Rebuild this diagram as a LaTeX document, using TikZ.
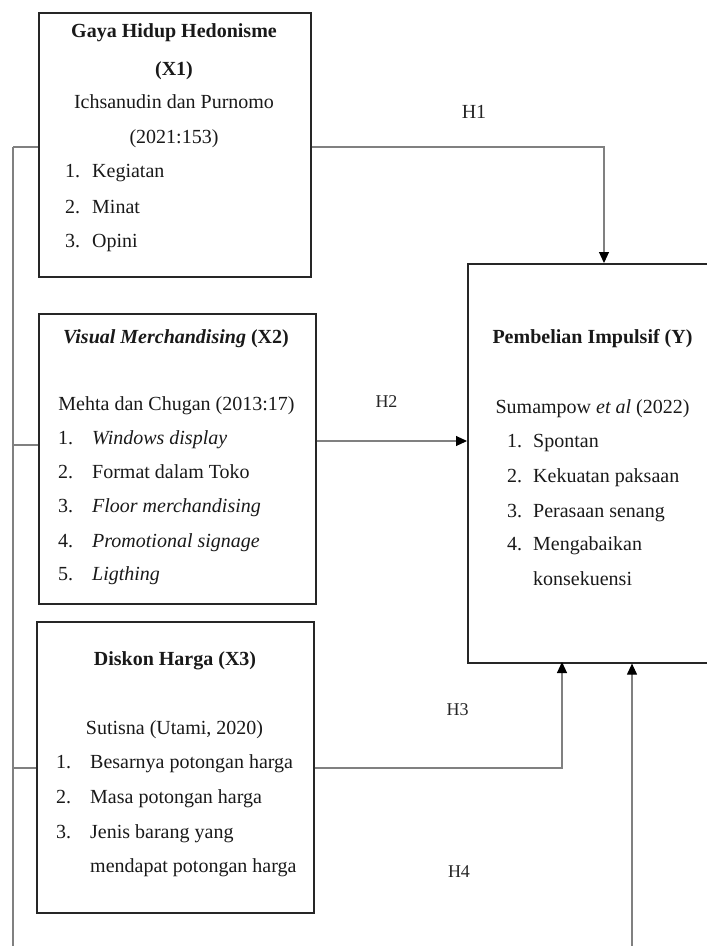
\documentclass[tikz,border=0pt]{standalone}
\usepackage{fontspec}
\setmainfont{Liberation Serif}
\usetikzlibrary{arrows.meta}
\tikzset{
  x=1pt, y=-1pt,
  box/.style={draw=black!85, line width=1.6pt, fill=none, inner sep=0pt, anchor=north west},
  conn/.style={draw=black!50, line width=1.1pt},
  arr/.style={-{Triangle[length=11pt,width=10pt,fill=black,color=black]}},
  txt/.style={font=\fontsize{20}{24}\selectfont, inner sep=0pt, anchor=base, text=black!90},
  item/.style={txt, anchor=base west},
  hlab/.style={font=\fontsize{18}{22}\selectfont, inner sep=0pt, anchor=base, text=black!85},
}
\begin{document}
\begin{tikzpicture}
\useasboundingbox (0,0) rectangle (707,946);
\clip (0,0) rectangle (707,946);
% boxes
\node[box, minimum width=272pt, minimum height=264pt] (x1) at (38,12) {};
\node[box, minimum width=277pt, minimum height=290pt] (x2) at (38,313) {};
\node[box, minimum width=277pt, minimum height=291pt] (x3) at (36,621) {};
\node[box, minimum width=260pt, minimum height=399pt] (y) at (467,263) {};
% X1 text
\node[txt] (x1t1) at (174,37.7) {\textbf{Gaya Hidup Hedonisme}};
\node[txt] (x1t2) at (174,75) {\textbf{(X1)}};
\node[txt] (x1s1) at (174,108) {Ichsanudin dan Purnomo};
\node[txt] (x1s2) at (174,143) {(2021:153)};
\node[item] (x1i1) at (65,177) {\makebox[27pt][l]{1.}Kegiatan};
\node[item] (x1i2) at (65,213) {\makebox[27pt][l]{2.}Minat};
\node[item] (x1i3) at (65,247) {\makebox[27pt][l]{3.}Opini};
% X2 text
\node[txt] (x2t) at (176,343) {\textbf{\textit{Visual Merchandising} (X2)}};
\node[txt] (x2s) at (176.5,410) {Mehta dan Chugan (2013:17)};
\node[item] (x2i1) at (58,444) {\makebox[34pt][l]{1.}\textit{Windows display}};
\node[item] (x2i2) at (58,478) {\makebox[34pt][l]{2.}Format dalam Toko};
\node[item] (x2i3) at (58,512) {\makebox[34pt][l]{3.}\textit{Floor merchandising}};
\node[item] (x2i4) at (58,547) {\makebox[34pt][l]{4.}\textit{Promotional signage}};
\node[item] (x2i5) at (58,580) {\makebox[34pt][l]{5.}\textit{Ligthing}};
% X3 text
\node[txt] (x3t) at (175,665) {\textbf{Diskon Harga (X3)}};
\node[txt] (x3s) at (174.5,734) {Sutisna (Utami, 2020)};
\node[item] (x3i1) at (56,768) {\makebox[34pt][l]{1.}Besarnya potongan harga};
\node[item] (x3i2) at (56,803) {\makebox[34pt][l]{2.}Masa potongan harga};
\node[item] (x3i3) at (56,838) {\makebox[34pt][l]{3.}Jenis barang yang};
\node[item] (x3i4) at (90,872) {mendapat potongan harga};
% Y text
\node[txt] (yt) at (592.5,343) {\textbf{Pembelian Impulsif (Y)}};
\node[txt] (ys) at (592.5,413) {Sumampow \textit{et al} (2022)};
\node[item] (yi1) at (507,447) {\makebox[26pt][l]{1.}Spontan};
\node[item] (yi2) at (507,482) {\makebox[26pt][l]{2.}Kekuatan paksaan};
\node[item] (yi3) at (507,517) {\makebox[26pt][l]{3.}Perasaan senang};
\node[item] (yi4) at (507,550) {\makebox[26pt][l]{4.}Mengabaikan};
\node[item] (yi5) at (533,585) {konsekuensi};
% labels
\node[hlab, font=\fontsize{20}{24}\selectfont] (h1l) at (474,118) {H1};
\node[hlab] (h2l) at (386.5,407) {H2};
\node[hlab] (h3l) at (457.5,715) {H3};
\node[hlab] (h4l) at (459,877) {H4};
% coordinates
\coordinate (j1) at (13,147);
\coordinate (j2) at (13,445);
\coordinate (j3) at (13,768);
\coordinate (jb) at (13,950);
\coordinate (h1) at (604,263);
\coordinate (h2) at (467,441);
\coordinate (h3) at (562,662);
\coordinate (h4) at (632,950);
% connectors
\draw[conn] (j1) -- (jb);
\draw[conn] (j1) -- (j1 -| x1.west);
\draw[conn] (j2) -- (j2 -| x2.west);
\draw[conn] (j3) -- (j3 -| x3.west);
\draw[conn, arr] (j1 -| x1.east) -| (h1);
\draw[conn, arr] (h2 -| x2.east) -- (h2);
\draw[conn, arr] (j3 -| x3.east) -| (h3);
\draw[conn, arr] (h4) -- (h4 |- y.south);
\end{tikzpicture}
\end{document}
